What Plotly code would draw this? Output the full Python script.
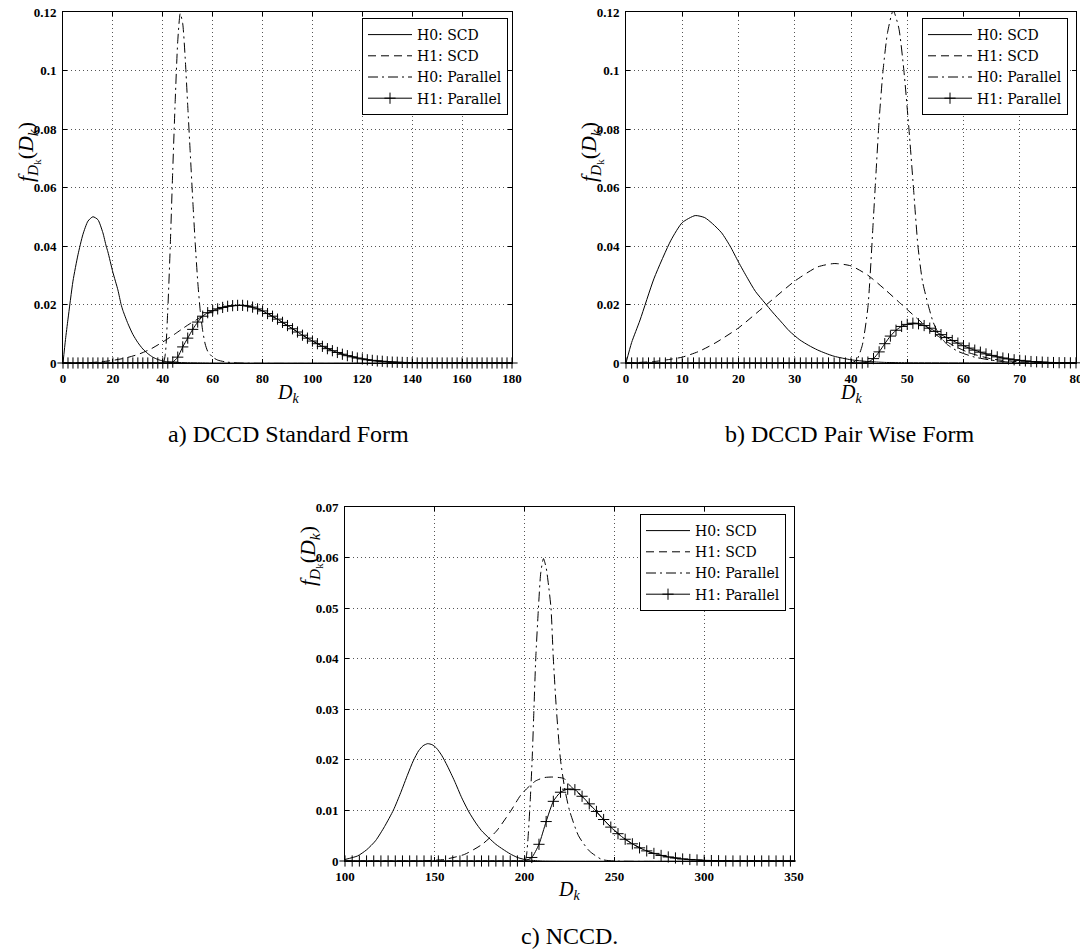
import plotly.graph_objects as go

# ---------------- Panel a) DCCD Standard Form ----------------
a_h0scd_x = [0, 1, 2, 4, 6, 8, 10, 12, 14, 16, 17.3, 18, 20, 22, 23.3, 24, 26, 28, 30, 32, 34, 36, 38, 40, 42, 45, 50, 55, 60, 180]
a_h0scd_y = [0, 0.008, 0.015, 0.028, 0.037, 0.044, 0.0485, 0.0500, 0.0490, 0.0445, 0.040, 0.038, 0.031, 0.025, 0.020, 0.018, 0.0135, 0.0098, 0.0070, 0.0048, 0.0032, 0.0020, 0.0012, 0.0007, 0.0004, 0.0002, 0.0001, 0.00005, 0, 0]

a_h1scd_x = [0, 10, 15, 20, 25, 30, 35, 40, 45, 48, 51, 55, 60, 65, 70, 75, 80, 90, 100, 110, 120, 130, 140, 150, 180]
a_h1scd_y = [0, 0.0001, 0.0004, 0.0009, 0.0017, 0.0029, 0.0047, 0.0072, 0.0100, 0.0118, 0.0135, 0.0155, 0.0177, 0.0191, 0.0197, 0.0193, 0.0178, 0.0128, 0.0075, 0.0036, 0.0014, 0.0004, 0.0001, 0, 0]

a_h0par_x = [0, 40, 41, 42, 43, 44, 45, 46, 47, 48, 49, 50, 51, 52, 53, 54, 55, 56, 57, 58, 60, 62, 65, 70, 180]
a_h0par_y = [0, 0, 0.003, 0.018, 0.040, 0.066, 0.090, 0.110, 0.1195, 0.116, 0.104, 0.088, 0.072, 0.056, 0.041, 0.028, 0.018, 0.011, 0.0065, 0.004, 0.002, 0.001, 0.0004, 0, 0]

a_h1par_x = list(range(0, 181, 2))
a_h1par_y = [0, 0, 0, 0, 0, 0, 0, 0, 0, 0, 0, 0, 0, 0, 0, 0, 0, 0, 0, 0, 0, 0,
             0.0003, 0.002, 0.0055, 0.0085, 0.0115, 0.014, 0.016, 0.0172, 0.0179, 0.0185,
             0.019, 0.0194, 0.0196, 0.0197, 0.0197, 0.0195, 0.0191, 0.0185, 0.0178,
             0.0169, 0.016, 0.015, 0.0139, 0.0128, 0.0117, 0.0106, 0.0095, 0.0085, 0.0075,
             0.0066, 0.0057, 0.0049, 0.0042, 0.0036, 0.003, 0.0025, 0.0021, 0.0017, 0.0014,
             0.0011, 0.0009, 0.0007, 0.0006, 0.0004, 0.0003, 0.00025, 0.0002, 0.00015, 0.0001,
             0, 0, 0, 0, 0, 0, 0, 0, 0, 0, 0, 0, 0, 0, 0, 0, 0, 0, 0, 0]

# ---------------- Panel b) DCCD Pair Wise Form ----------------
b_h0scd_x = [0, 1, 2.5, 5, 8, 10, 12.3, 14, 15.4, 17, 18.5, 20, 21.6, 23, 24.7, 26, 27.8, 29, 30.9, 32.5, 34, 35.5, 37, 40, 43, 46, 50, 80]
b_h0scd_y = [0, 0.007, 0.0147, 0.029, 0.042, 0.048, 0.0504, 0.0497, 0.0476, 0.0445, 0.040, 0.0345, 0.029, 0.0245, 0.0205, 0.0175, 0.0136, 0.011, 0.0079, 0.006, 0.0045, 0.0033, 0.0023, 0.0011, 0.0005, 0.0002, 0.0001, 0]

b_h1scd_x = [0, 5, 8, 10, 13, 16, 20, 25, 30, 34, 37, 40, 43, 46, 49, 52, 55, 58, 61, 65, 70, 80]
b_h1scd_y = [0, 0.0005, 0.0013, 0.002, 0.004, 0.007, 0.012, 0.020, 0.028, 0.0328, 0.0340, 0.0332, 0.030, 0.0252, 0.020, 0.0148, 0.0098, 0.0062, 0.0035, 0.0014, 0.0004, 0]

b_h0par_x = [0, 40, 41, 42, 43, 44, 44.3, 45, 45.7, 46.5, 47.5, 48.5, 49.4, 50.3, 51.1, 51.9, 52.7, 53.7, 54.6, 55.6, 57, 59, 62, 66, 70, 80]
b_h0par_y = [0, 0, 0.001, 0.006, 0.019, 0.050, 0.060, 0.083, 0.100, 0.113, 0.1205, 0.1145, 0.100, 0.080, 0.060, 0.040, 0.028, 0.020, 0.014, 0.010, 0.0065, 0.004, 0.002, 0.0007, 0, 0]

b_h1par_x = list(range(0, 81, 1))
b_h1par_y = [0, 0, 0, 0, 0, 0, 0, 0, 0, 0, 0, 0, 0, 0, 0, 0, 0, 0, 0, 0,
             0, 0, 0, 0, 0, 0, 0, 0, 0, 0, 0, 0, 0, 0, 0, 0, 0, 0, 0, 0,
             0, 0, 0,
             0.0003, 0.0015, 0.0038, 0.0066, 0.0092, 0.0112, 0.0125, 0.0132, 0.0136, 0.0134,
             0.0128, 0.0119, 0.0108, 0.0097, 0.0087, 0.0077, 0.0068, 0.0059, 0.0051, 0.0044,
             0.0037, 0.0031, 0.0026, 0.0021, 0.0017, 0.0014, 0.0011, 0.0009, 0.0007, 0.0005,
             0.0004, 0.0003, 0.0002, 0.00015, 0.0001, 0.0001, 0.00005, 0.00005]

# ---------------- Panel c) NCCD ----------------
c_h0scd_x = [100, 107, 112, 117, 122, 127, 131, 135, 138, 141, 143.5, 146, 148.5, 151, 154, 157, 161, 165, 169, 172.5, 176, 180, 184, 188, 192, 196, 200, 205, 210, 350]
c_h0scd_y = [0.0003, 0.001, 0.0022, 0.004, 0.0068, 0.0101, 0.0135, 0.0172, 0.0198, 0.0218, 0.0228, 0.0232, 0.0230, 0.0223, 0.0208, 0.0188, 0.0158, 0.0125, 0.0097, 0.0077, 0.006, 0.0046, 0.0033, 0.0023, 0.0014, 0.0007, 0.0003, 0.0001, 0, 0]

c_h1scd_x = [100, 140, 155, 166.5, 176.4, 184.3, 192.3, 198.2, 206, 211, 216, 222, 225, 228, 232, 236, 240, 245, 250, 255, 260, 270, 280, 290, 300, 350]
c_h1scd_y = [0, 0, 0.0003, 0.0013, 0.0033, 0.0059, 0.0099, 0.0132, 0.0158, 0.0165, 0.0166, 0.0163, 0.0150, 0.0140, 0.0127, 0.0112, 0.0097, 0.0078, 0.0061, 0.0046, 0.0034, 0.0017, 0.0008, 0.0003, 0.0001, 0]

c_h0par_x = [100, 200, 201, 202, 203, 204.2, 205.2, 206.2, 207.7, 209, 210.5, 212, 213.5, 214.7, 216, 217.7, 220, 222.5, 225, 230, 236, 243, 250, 350]
c_h0par_y = [0, 0, 0.001, 0.005, 0.011, 0.020, 0.030, 0.040, 0.050, 0.057, 0.0598, 0.058, 0.054, 0.050, 0.040, 0.030, 0.020, 0.014, 0.010, 0.005, 0.002, 0.0003, 0, 0]

c_h1par_x = list(range(100, 349, 4))
c_h1par_y = [0, 0, 0, 0, 0, 0, 0, 0, 0, 0, 0, 0, 0, 0, 0, 0, 0, 0, 0, 0, 0, 0, 0, 0, 0, 0,
             0.0007, 0.0033, 0.0078, 0.0118, 0.0136, 0.0142, 0.0141, 0.0128, 0.0113, 0.0098,
             0.0082, 0.0067, 0.0054, 0.0043, 0.0034, 0.0026, 0.002, 0.0015, 0.0011, 0.0008,
             0.0006, 0.0004, 0.0003, 0.0002, 0.00012, 0.00008, 0.00005,
             0, 0, 0, 0, 0, 0, 0, 0, 0, 0]

series_names = ["H0: SCD", "H1: SCD", "H0: Parallel", "H1: Parallel"]
captions = ["a) DCCD Standard Form", "b) DCCD Pair Wise Form", "c) NCCD."]

SERIF = "Liberation Serif"
DASH = "8px,5px"
DASHDOT = "10px,4px,2px,4px"

panels = [
    dict(xs=[a_h0scd_x, a_h1scd_x, a_h0par_x, a_h1par_x], ys=[a_h0scd_y, a_h1scd_y, a_h0par_y, a_h1par_y],
         xa="x", ya="y", legend="legend"),
    dict(xs=[b_h0scd_x, b_h1scd_x, b_h0par_x, b_h1par_x], ys=[b_h0scd_y, b_h1scd_y, b_h0par_y, b_h1par_y],
         xa="x2", ya="y2", legend="legend2"),
    dict(xs=[c_h0scd_x, c_h1scd_x, c_h0par_x, c_h1par_x], ys=[c_h0scd_y, c_h1scd_y, c_h0par_y, c_h1par_y],
         xa="x3", ya="y3", legend="legend3"),
]

fig = go.Figure()
for p in panels:
    styles = [dict(dash="solid"), dict(dash=DASH), dict(dash=DASHDOT), dict(dash="solid")]
    for i in range(4):
        is_par1 = (i == 3)
        fig.add_trace(go.Scatter(
            x=p["xs"][i], y=p["ys"][i], name=series_names[i],
            xaxis=p["xa"], yaxis=p["ya"], legend=p["legend"],
            mode="lines+markers" if is_par1 else "lines",
            line=dict(color="black", width=1, shape="spline", smoothing=0.6, **styles[i]),
            marker=dict(symbol="cross-thin", size=8, color="black", line=dict(color="black", width=1)) if is_par1 else None,
            cliponaxis=not is_par1,
            showlegend=True,
        ))

axis_common = dict(
    showline=True, linecolor="black", linewidth=1, mirror="ticks",
    ticks="inside", ticklen=4, tickcolor="black",
    showgrid=True, gridcolor="#555555", griddash="1px,3px", gridwidth=1,
    zeroline=False, automargin=False, ticklabelstandoff=3, ticklabeloverflow="allow",
    tickfont=dict(family=SERIF, size=13, color="black", weight="bold"),
)

W, H = 1080, 951
def xd(a, b):
    return [a / W, b / W]
def yd(top, bottom):
    return [1 - bottom / H, 1 - top / H]
def px(x):
    return x / W
def py(y):
    return 1 - y / H

fig.update_layout(
    width=W, height=H, margin=dict(l=0, r=0, t=0, b=0, autoexpand=False),
    paper_bgcolor="white", plot_bgcolor="white",
    xaxis=dict(domain=xd(63, 512), range=[0, 180], tick0=0, dtick=20, anchor="y", **axis_common),
    yaxis=dict(domain=yd(12, 363), range=[0, 0.12], tick0=0, dtick=0.02, anchor="x", **axis_common),
    xaxis2=dict(domain=xd(626, 1076), range=[0, 80], tick0=0, dtick=10, anchor="y2", **axis_common),
    yaxis2=dict(domain=yd(12, 363), range=[0, 0.12], tick0=0, dtick=0.02, anchor="x2", **axis_common),
    xaxis3=dict(domain=xd(345, 794), range=[100, 350], tick0=100, dtick=50, anchor="y3", **axis_common),
    yaxis3=dict(domain=yd(507, 861), range=[0, 0.07], tick0=0, dtick=0.01, anchor="x3", **axis_common),
)

legend_common = dict(xanchor="right", yanchor="top", bordercolor="black", borderwidth=1, bgcolor="white",
                     font=dict(family="DejaVu Serif", size=14, color="black"), tracegroupgap=0, itemwidth=44,
                     xref="paper", yref="paper")
fig.update_layout(
    legend=dict(x=px(508), y=py(18), **legend_common),
    legend2=dict(x=px(1068), y=py(18), **legend_common),
    legend3=dict(x=px(786), y=py(514), **legend_common),
)

ytitle = "<i>f</i><sub><i>D</i><sub>k</sub></sub>(<i>D</i><sub><i>k</i></sub>)"
xtitle = "<i>D</i><sub><i>k</i></sub>"
ann = []
# y titles
for (xc, yc) in [(28, 152), (591, 152), (310, 556)]:
    ann.append(dict(x=px(xc), y=py(yc), xref="paper", yref="paper", text=ytitle, showarrow=False,
                    textangle=-90, font=dict(family=SERIF, size=22, color="black"),
                    xanchor="center", yanchor="middle"))
# x titles
for (xc, yc) in [(288, 393), (851, 393), (569, 890)]:
    ann.append(dict(x=px(xc), y=py(yc), xref="paper", yref="paper", text=xtitle, showarrow=False,
                    font=dict(family=SERIF, size=20, color="black"), xanchor="center", yanchor="middle"))
# captions
for (cap, xc, yc) in [(captions[0], 288, 434), (captions[1], 850, 434), (captions[2], 569, 936)]:
    ann.append(dict(x=px(xc), y=py(yc), xref="paper", yref="paper", text=cap, showarrow=False,
                    font=dict(family=SERIF, size=24, color="black"), xanchor="center", yanchor="middle"))
fig.update_layout(annotations=ann)

# the page body has a default 8px margin; remove it so the figure sits at the page origin
fig.write_html("out.html", config={"displayModeBar": False},
               post_script="document.body.style.margin='0px';")
